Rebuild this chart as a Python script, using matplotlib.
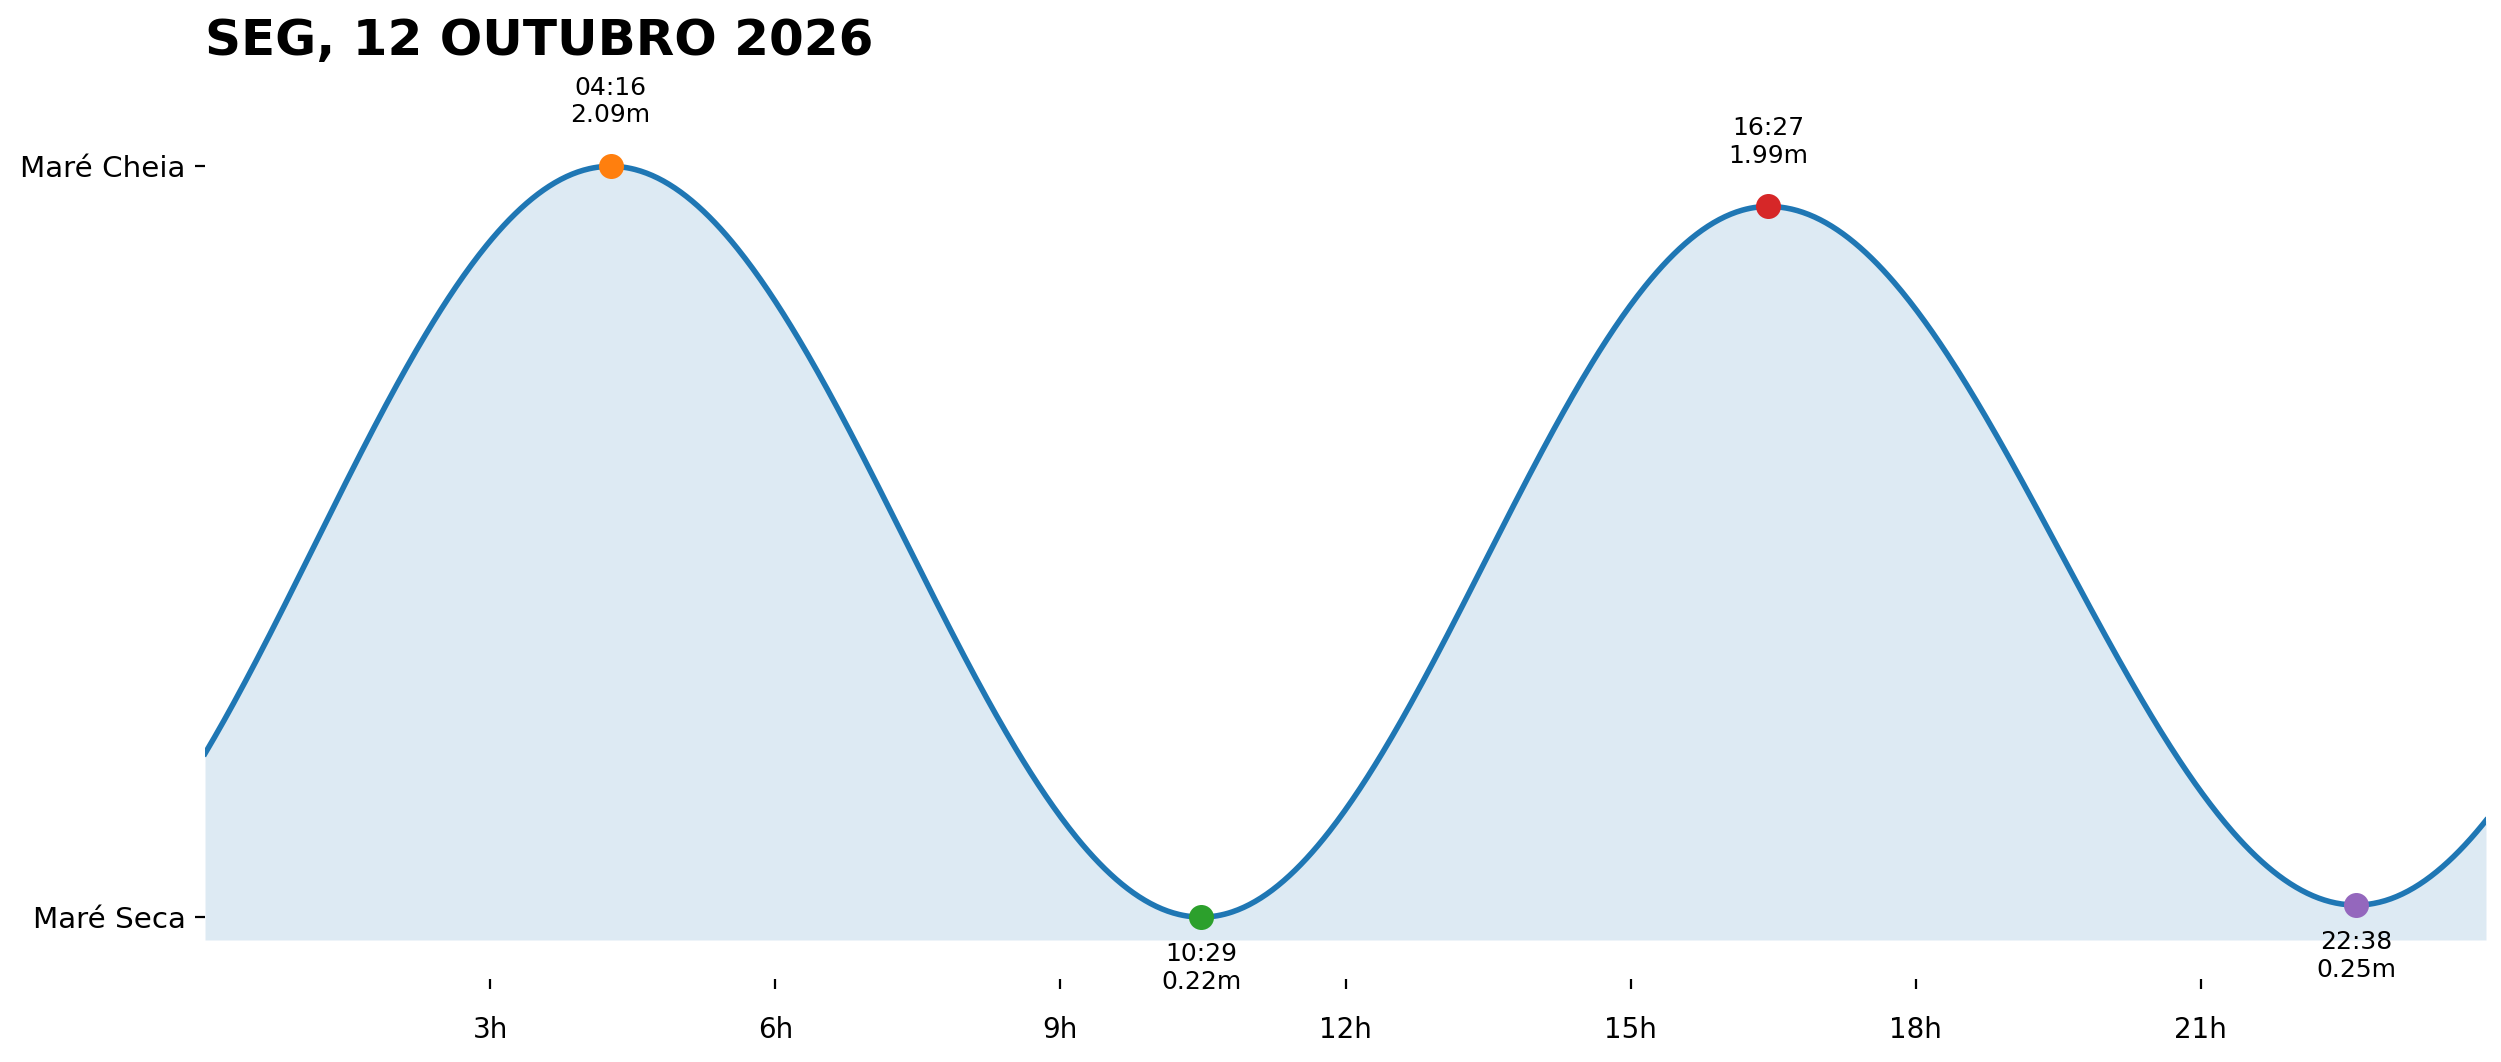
import numpy as np
import matplotlib
matplotlib.use("Agg")
from matplotlib import pyplot as plt

# tide extremes (hours from midnight, metres); first and last belong to the neighbour days
ext_hours = [-1.967, 4.267, 10.483, 16.450, 22.633, 28.80]
ext_heights = [0.20, 2.09, 0.22, 1.99, 0.25, 2.06]
ext_labels = ["", "04:16", "10:29", "16:27", "22:38", ""]
ext_colors = ["", "tab:orange", "tab:green", "tab:red", "tab:purple", ""]

x_ticks = [3, 6, 9, 12, 15, 18, 21]
x_ticklabels = ["3h", "6h", "9h", "12h", "15h", "18h", "21h"]
y_ticklabels = ["Maré Seca", "Maré Cheia"]
title = "SEG, 12 OUTUBRO 2026"

# cosine curve between consecutive extremes
t = np.linspace(0, 24, 1200)
h = np.zeros_like(t)
for i in range(len(ext_hours) - 1):
    t0, t1 = ext_hours[i], ext_hours[i+1]
    h0, h1 = ext_heights[i], ext_heights[i+1]
    m = (t >= t0) & (t <= t1)
    f = (1 - np.cos(np.pi*(t[m] - t0)/(t1 - t0)))/2
    h[m] = h0 + (h1 - h0)*f

fig = plt.figure(figsize=(12.505, 5.31), dpi=200)
ax = fig.add_axes([205/2501, 1 - 940/1062, (2486-205)/2501, (940-86)/1062])

ymin, ymax = 0.163, 2.29
ax.fill_between(t, h, ymin, color="tab:blue", alpha=0.15, linewidth=0)
ax.plot(t, h, color="tab:blue", lw=2)

for i in range(1, len(ext_hours) - 1):
    x, y = ext_hours[i], ext_heights[i]
    ax.plot(x, y, "o", color=ext_colors[i], ms=8, zorder=5)
    high = y > 1
    ax.annotate("%s\n%.2fm" % (ext_labels[i], y), (x, y),
                xytext=(0, 14 if high else -9), textcoords="offset points",
                ha="center", va="bottom" if high else "top", fontsize=9,
                annotation_clip=False)

ax.set_xlim(0, 24)
ax.set_ylim(ymin, ymax)
ax.set_xticks(x_ticks)
ax.set_xticklabels(x_ticklabels, fontsize=10)
ax.set_yticks([min(ext_heights[1:5]), max(ext_heights[1:5])])
ax.set_yticklabels(y_ticklabels, fontsize=10.6)
ax.tick_params(axis="x", pad=10)
for s in ax.spines.values():
    s.set_visible(False)
ax.spines["bottom"].set_position(("outward", 14))
ax.set_title(title, loc="left", fontsize=18, fontweight="bold", pad=11)

fig.savefig("out.png", dpi=200)
